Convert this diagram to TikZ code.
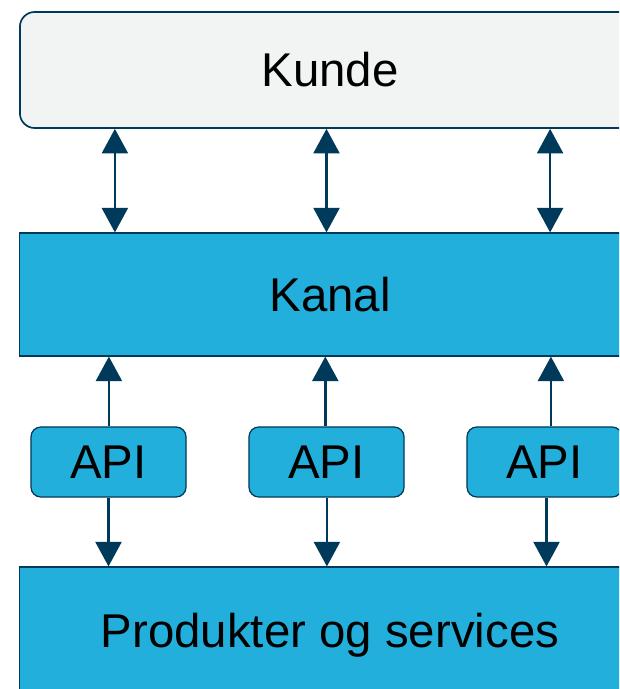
\documentclass[tikz,border=0pt]{standalone}
\usepackage{fontspec}
\setmainfont{Liberation Sans}
\usetikzlibrary{arrows.meta}
\definecolor{kundegray}{HTML}{F2F4F4}
\definecolor{kanalblue}{HTML}{23AFDC}
\definecolor{navy}{HTML}{003A5A}

\begin{document}
\begin{tikzpicture}[x=0.025cm, y=-0.025cm,
    layer/.style={draw=navy, line width=0.8pt, fill=kanalblue, inner sep=0pt,
        minimum width=15.5cm, font=\fontsize{33.7}{40}\selectfont},
    apibox/.style={draw=navy, line width=0.9pt, fill=kanalblue, inner sep=0pt,
        rounded corners=7pt, minimum width=3.875cm, minimum height=1.75cm,
        font=\fontsize{33.7}{40}\selectfont},
    link/.style={navy, line width=1.8pt, -{Triangle[width=18.5pt,length=17.5pt]}},
    both/.style={link, {Triangle[width=18.5pt,length=17.5pt]}-{Triangle[width=18.5pt,length=17.5pt]}}]
    \clip (0,0) rectangle (619,689);

    % Layers
    \node[layer, fill=kundegray, line width=1.2pt, rounded corners=10.5pt,
        minimum height=2.9cm] (kunde) at (330,70) {Kunde};
    \node[layer, minimum height=3.075cm] (kanal) at (330,294.5) {Kanal};
    \node[layer, minimum height=3.4cm] (produkter) at (330,635) {Produkter og services};

    % API boxes
    \node[apibox] (api1) at (108.5,462) {API};
    \node[apibox] (api2) at (326.5,462) {API};
    \node[apibox] (api3) at (544.5,462) {API};

    % Kunde <-> Kanal
    \foreach \i/\dx in {1/0.16, 2/0, 3/0.14}
        \draw[both] ([xshift=\dx cm]api\i |- kunde.south) -- ([xshift=\dx cm]api\i |- kanal.north);

    % API -> Kanal
    \foreach \i/\dx in {1/0.01, 2/-0.03, 3/0.16}
        \draw[link] ([xshift=\dx cm]api\i.north) -- ([xshift=\dx cm]api\i.north |- kanal.south);

    % API -> Produkter
    \foreach \i/\dx in {1/0, 2/0.01, 3/0.05}
        \draw[link] ([xshift=\dx cm]api\i.south) -- ([xshift=\dx cm]api\i.south |- produkter.north);
\end{tikzpicture}
\end{document}
